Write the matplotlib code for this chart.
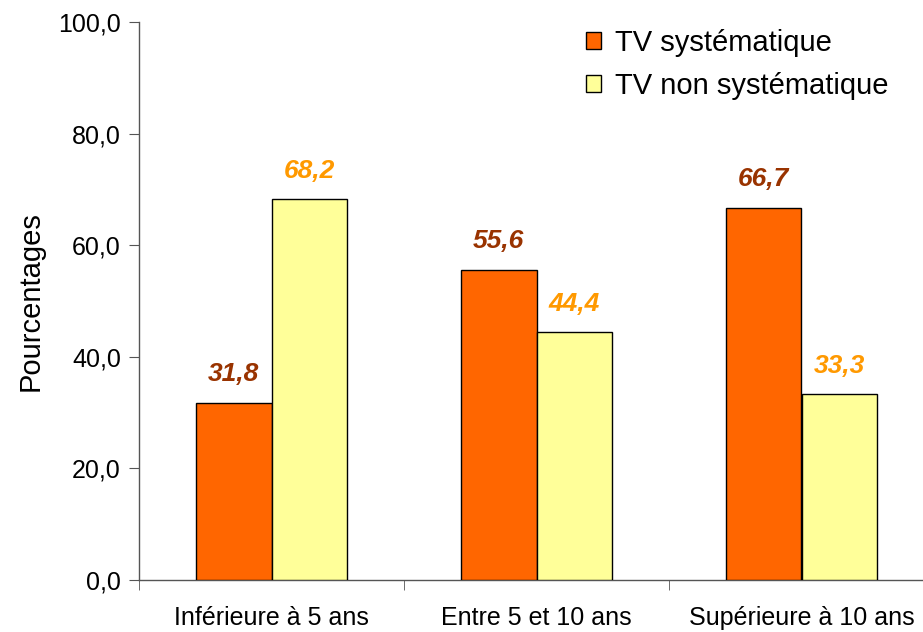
import matplotlib
matplotlib.use("Agg")
import matplotlib.pyplot as plt
import numpy as np

categories = ["Inférieure à 5 ans", "Entre 5 et 10 ans", "Supérieure à 10 ans"]
series_names = ["TV systématique", "TV non systématique"]
systematique = [31.8, 55.6, 66.7]
non_systematique = [68.2, 44.4, 33.3]
yticks = [0, 20, 40, 60, 80, 100]

plt.rcParams['font.family'] = ['Liberation Sans', 'DejaVu Sans']

fig = plt.figure(figsize=(9.23, 6.32), dpi=100)
ax = fig.add_axes([139/923, 1-580/632, 795/923, 558/632])

x = np.arange(len(categories))
w = 0.285
c1, c2 = "#FF6600", "#FFFF99"
b1 = ax.bar(x - w/2, systematique, w, color=c1, edgecolor="black", linewidth=1, label=series_names[0], zorder=3)
b2 = ax.bar(x + w/2, non_systematique, w, color=c2, edgecolor="black", linewidth=1, label=series_names[1], zorder=3)

fmt = lambda v: f"{v:.1f}".replace(".", ",")
for rect, v in zip(b1, systematique):
    ax.annotate(fmt(v), (rect.get_x() + rect.get_width()/2, v), xytext=(0, 12), textcoords="offset points",
                ha="center", va="bottom", fontsize=19, fontweight="bold", fontstyle="italic", color="#993300")
for rect, v in zip(b2, non_systematique):
    ax.annotate(fmt(v), (rect.get_x() + rect.get_width()/2, v), xytext=(0, 12), textcoords="offset points",
                ha="center", va="bottom", fontsize=19, fontweight="bold", fontstyle="italic", color="#FF9900")

ax.set_xlim(-0.5, 2.5)
ax.set_ylim(0, 100)
ax.set_yticks(yticks)
ax.set_yticklabels([fmt(float(t)) for t in yticks], fontsize=18)
ax.set_xticks(x)
ax.set_xticklabels(categories, fontsize=18)
ax.tick_params(axis="x", which="major", length=0, pad=19)
ax.set_xticks([-0.5, 0.5, 1.5, 2.5], minor=True)
ax.tick_params(axis="x", which="minor", length=7, color="#555555", direction="out")
ax.tick_params(axis="y", length=7, color="#555555", direction="out", pad=6)

for s in ["top", "right"]:
    ax.spines[s].set_visible(False)
for s in ["left", "bottom"]:
    ax.spines[s].set_color("#555555")
    ax.spines[s].set_linewidth(1)

ax.set_ylabel("Pourcentages", fontsize=21, labelpad=10)

leg = ax.legend(loc="upper right", frameon=False, fontsize=21,
                handlelength=0.5, handleheight=0.5, handletextpad=0.5, labelspacing=0.5, borderaxespad=0,
                borderpad=0)
leg.set_bbox_to_anchor((889/923, 1 - 29/632), transform=fig.transFigure)

fig.savefig("out.png", dpi=100)
